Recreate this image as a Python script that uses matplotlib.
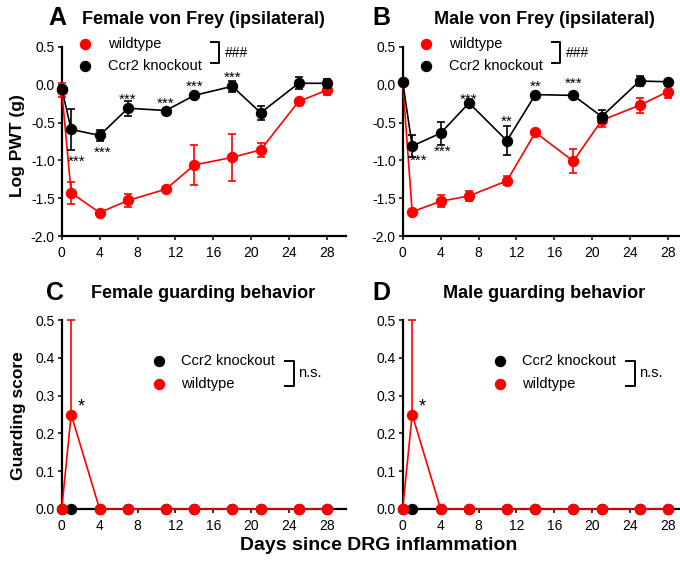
import numpy as np
import matplotlib
matplotlib.use("Agg")
import matplotlib.pyplot as plt

plt.rcParams['font.family'] = ['Liberation Sans', 'DejaVu Sans']

days = [0, 1, 4, 7, 11, 14, 18, 21, 25, 28]

# von Frey, log PWT (g)
f_wt = [-0.07, -1.43, -1.69, -1.53, -1.38, -1.06, -0.96, -0.86, -0.22, -0.07]
f_wt_err = [0.09, 0.15, 0.02, 0.08, 0.03, 0.26, 0.31, 0.09, 0.03, 0.07]
f_ko = [-0.05, -0.59, -0.67, -0.31, -0.34, -0.14, -0.02, -0.37, 0.02, 0.02]
f_ko_err = [0.02, 0.27, 0.07, 0.10, 0.02, 0.02, 0.07, 0.09, 0.08, 0.06]

m_wt = [0.04, -1.68, -1.54, -1.47, -1.27, -0.63, -1.01, -0.47, -0.27, -0.09]
m_wt_err = [0.02, 0.02, 0.08, 0.07, 0.06, 0.02, 0.16, 0.09, 0.10, 0.08]
m_ko = [0.04, -0.81, -0.64, -0.24, -0.74, -0.13, -0.14, -0.42, 0.05, 0.04]
m_ko_err = [0.02, 0.14, 0.15, 0.02, 0.19, 0.02, 0.02, 0.09, 0.07, 0.02]

# guarding score
fg_wt = [0, 0.25, 0, 0, 0, 0, 0, 0, 0, 0]
fg_wt_up = [0, 0.25, 0, 0, 0, 0, 0, 0, 0, 0]
fg_ko = [0, 0, 0, 0, 0, 0, 0, 0, 0, 0]
mg_wt = [0, 0.25, 0, 0, 0, 0, 0, 0, 0, 0]
mg_wt_up = [0, 0.25, 0, 0, 0, 0, 0, 0, 0, 0]
mg_ko = [0, 0, 0, 0, 0, 0, 0, 0, 0, 0]

# significance marks (day, y, text)
f_stars = [(1.6, -0.96, "***"), (4.3, -0.84, "***"), (7.0, -0.15, "***"),
           (11.0, -0.20, "***"), (14.0, 0.03, "***"), (18.0, 0.14, "***")]
m_stars = [(1.7, -0.95, "***"), (4.2, -0.83, "***"), (7.0, -0.15, "***"),
           (11.0, -0.43, "**"), (14.0, 0.03, "**"), (18.0, 0.07, "***")]

RED = "#ff0000"
BLK = "#000000"
W, H = 680, 568

fig = plt.figure(figsize=(W / 100, H / 100), dpi=100)


def px_axes(x0, ytop, ybot, x1):
    return fig.add_axes([x0 / W, 1 - ybot / H, (x1 - x0) / W, (ybot - ytop) / H])


axA = px_axes(61.7, 47, 236, 346)
axB = px_axes(402.7, 47, 236, 687)
axC = px_axes(61.7, 320, 509, 346)
axD = px_axes(402.7, 320, 509, 687)


def style(ax, ylim, yticks, yfmt):
    ax.set_xlim(0, 30)
    ax.set_ylim(*ylim)
    ax.set_xticks(range(0, 29, 4))
    ax.set_yticks(yticks)
    ax.set_yticklabels([yfmt.format(v) for v in yticks])
    for s in ["top", "right"]:
        ax.spines[s].set_visible(False)
    for s in ["left", "bottom"]:
        ax.spines[s].set_linewidth(1.6)
    ax.tick_params(direction="out", length=3, width=1.1, labelsize=10, pad=2)
    ax.tick_params(axis="x", pad=4)


kw = dict(marker="o", ms=7.2, lw=1.2, elinewidth=1.2, capsize=3, capthick=1.2, clip_on=False)


def vf_panel(ax, wt, wt_err, ko, ko_err, stars):
    ax.errorbar(days, wt, yerr=wt_err, color=RED, zorder=3, **kw)
    ax.errorbar(days, ko, yerr=ko_err, color=BLK, zorder=4, **kw)
    for d, y, t in stars:
        ax.annotate(t, (d, y), xytext=(0, -4), textcoords="offset pixels",
                    ha="center", va="center", fontsize=11)
    style(ax, (-2.0, 0.5), [-2.0, -1.5, -1.0, -0.5, 0.0, 0.5], "{:.1f}")
    tr = ax.transAxes
    ax.plot([0.082], [1.016], "o", color=RED, ms=7.2, transform=tr, clip_on=False)
    ax.plot([0.082], [0.899], "o", color=BLK, ms=7.2, transform=tr, clip_on=False)
    ax.text(0.162, 1.016, "wildtype", transform=tr, va="center", fontsize=10.5)
    ax.text(0.162, 0.899, "Ccr2 knockout", transform=tr, va="center", fontsize=10.5)
    ax.plot([0.526, 0.555, 0.555, 0.526], [1.027, 1.027, 0.915, 0.915], color=BLK,
            lw=1.4, transform=tr, clip_on=False)
    ax.text(0.574, 0.968, "###", transform=tr, va="center", fontsize=10)


def guard_panel(ax, wt, wt_up, ko):
    ax.errorbar(days, ko, color=BLK, zorder=3, **kw)
    ax.errorbar(days, wt, yerr=[np.zeros(len(wt_up)), wt_up], color=RED, zorder=4, **kw)
    ax.text(2.1, 0.27, "*", ha="center", va="center", fontsize=13)
    style(ax, (0.0, 0.5), [0.0, 0.1, 0.2, 0.3, 0.4, 0.5], "{:.1f}")
    tr = ax.transAxes
    ax.plot([0.341], [0.783], "o", color=BLK, ms=7.2, transform=tr, clip_on=False)
    ax.plot([0.341], [0.661], "o", color=RED, ms=7.2, transform=tr, clip_on=False)
    ax.text(0.418, 0.783, "Ccr2 knockout", transform=tr, va="center", fontsize=10.5)
    ax.text(0.418, 0.661, "wildtype", transform=tr, va="center", fontsize=10.5)
    ax.plot([0.784, 0.816, 0.816, 0.784], [0.783, 0.783, 0.651, 0.651], color=BLK,
            lw=1.4, transform=tr, clip_on=False)
    ax.text(0.830, 0.717, "n.s.", transform=tr, va="center", fontsize=10.5)


vf_panel(axA, f_wt, f_wt_err, f_ko, f_ko_err, f_stars)
vf_panel(axB, m_wt, m_wt_err, m_ko, m_ko_err, m_stars)
guard_panel(axC, fg_wt, fg_wt_up, fg_ko)
guard_panel(axD, mg_wt, mg_wt_up, mg_ko)

# titles and panel letters
tb = dict(fontsize=13, fontweight="bold", ha="center", va="center")
fig.text(203 / W, 1 - 19 / H, "Female von Frey (ipsilateral)", **tb)
fig.text(544 / W, 1 - 19 / H, "Male von Frey (ipsilateral)", **tb)
fig.text(203 / W, 1 - 293 / H, "Female guarding behavior", **tb)
fig.text(544 / W, 1 - 293 / H, "Male guarding behavior", **tb)
lb = dict(fontsize=18, fontweight="bold", ha="center", va="center")
fig.text(57 / W, 1 - 18 / H, "A", **lb)
fig.text(381 / W, 1 - 18 / H, "B", **lb)
fig.text(55 / W, 1 - 293 / H, "C", **lb)
fig.text(381 / W, 1 - 293 / H, "D", **lb)

fig.text(18 / W, 0.743, "Log PWT (g)", rotation=90, fontsize=12.5, fontweight="bold",
         ha="center", va="center")
fig.text(19 / W, 0.268, "Guarding score", rotation=90, fontsize=12.5, fontweight="bold",
         ha="center", va="center")
fig.text(379 / W, 1 - 545 / H, "Days since DRG inflammation", fontsize=14,
         fontweight="bold", ha="center", va="center")

fig.savefig("out.png", dpi=100)
